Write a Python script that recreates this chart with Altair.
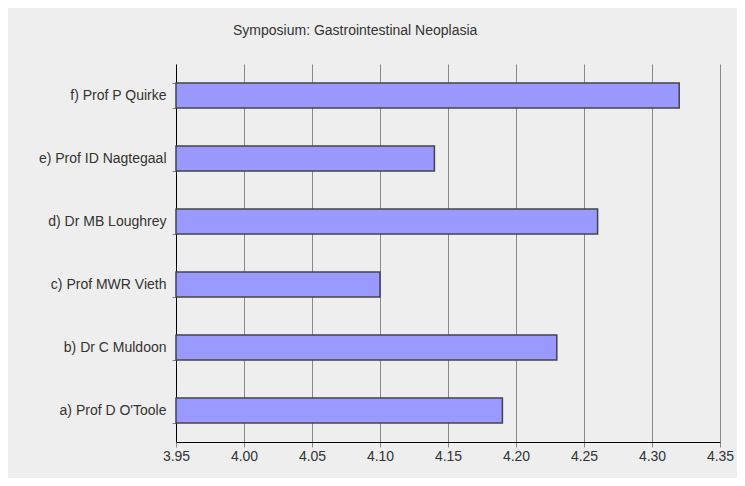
import altair as alt
import pandas as pd

speakers = ["a) Prof D O'Toole", "b) Dr C Muldoon", "c) Prof MWR Vieth",
            "d) Dr MB Loughrey", "e) Prof ID Nagtegaal", "f) Prof P Quirke"]
scores = [4.19, 4.23, 4.10, 4.26, 4.14, 4.32]
x_ticks = [3.95, 4.00, 4.05, 4.10, 4.15, 4.20, 4.25, 4.30, 4.35]

df = pd.DataFrame({"speaker": speakers, "score": scores})

FONT = "Liberation Sans"

bars = alt.Chart(df).mark_bar(
    color="#9999ff", stroke="#444444", strokeWidth=1.5
).encode(
    y=alt.Y("speaker:N", sort=speakers[::-1], title=None,
            scale=alt.Scale(paddingInner=0.6, paddingOuter=0.3),
            axis=alt.Axis(tickBand="extent", tickSize=4, tickColor="#888888",
                          domainColor="#000000", labelFontSize=14, labelFont=FONT,
                          labelColor="#333333", labelPadding=6, grid=False)),
    x=alt.X("score:Q", title=None,
            scale=alt.Scale(domain=[3.95, 4.35], zero=False, nice=False),
            axis=alt.Axis(values=x_ticks, format=".2f", grid=True,
                          gridColor="#888888", gridOpacity=1, gridWidth=1,
                          tickColor="#888888", tickSize=5, domainColor="#000000",
                          labelFontSize=14, labelFont=FONT, labelColor="#333333",
                          labelPadding=2, labelFlush=False, labelOverlap=False)),
    x2=alt.datum(3.95),
)

chart = bars.properties(
    width=544, height=378,
    background="#eeeeee",
    padding={"left": 168, "top": 56, "right": 17, "bottom": 36},
    autosize=alt.AutoSizeParams(type="none"),
    title=alt.TitleParams("Symposium: Gastrointestinal Neoplasia", anchor="start",
                          frame="group", dx=57, font=FONT, fontSize=14,
                          fontWeight="normal", color="#333333", offset=19),
).configure_view(stroke=None, fill="#eeeeee")

chart.save("out.html", embed_options={"renderer": "svg", "actions": False})
